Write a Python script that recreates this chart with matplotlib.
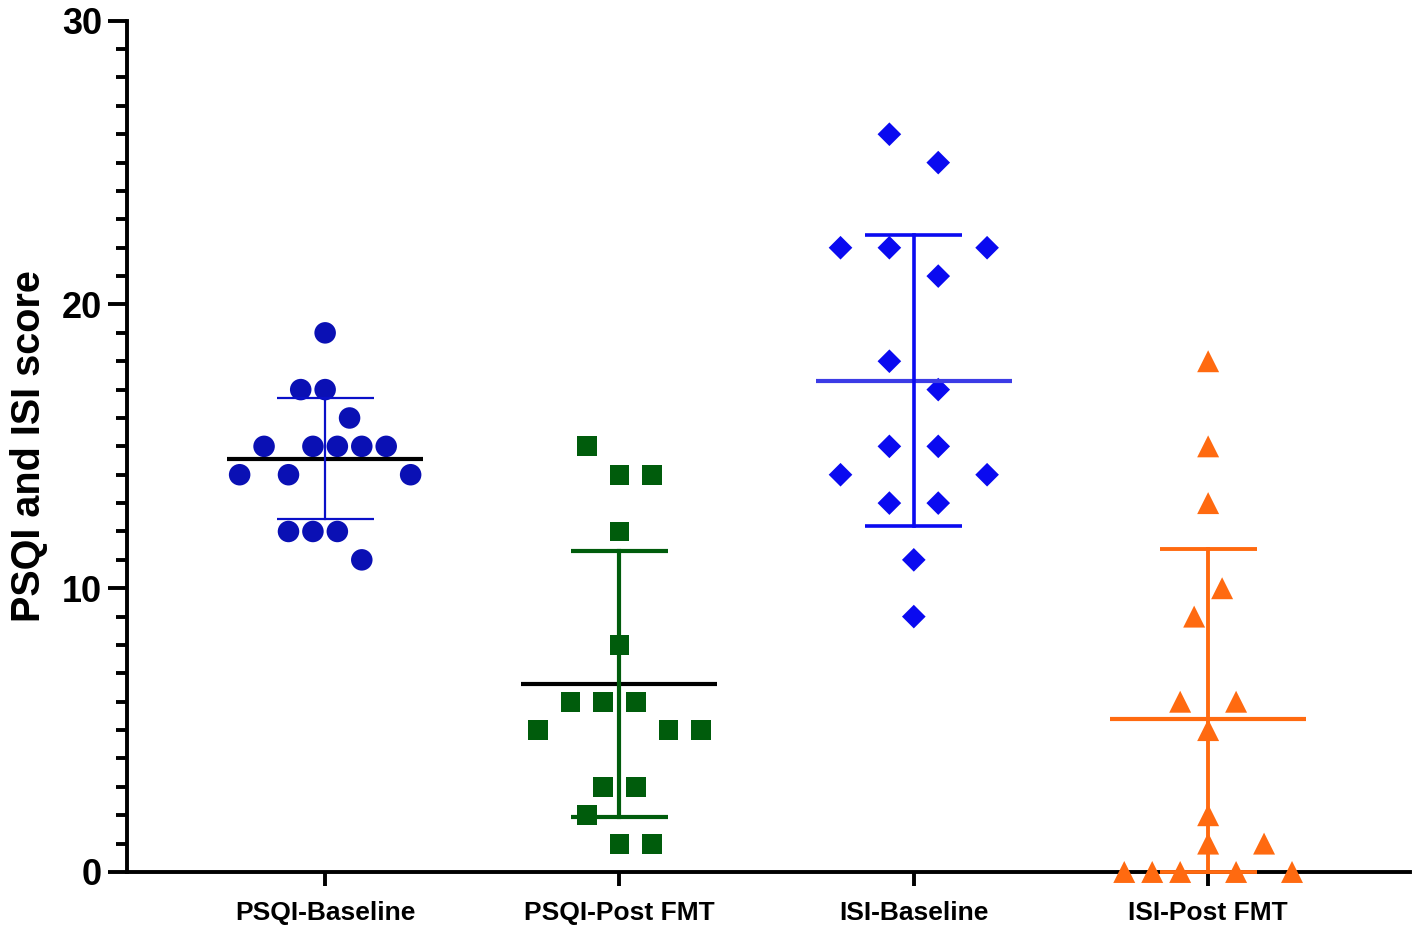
import numpy as np
import matplotlib
matplotlib.use("Agg")
import matplotlib.pyplot as plt

plt.rcParams['font.family'] = ['Liberation Sans', 'DejaVu Sans']
plt.rcParams['font.weight'] = 'bold'

# group names shown under the x axis
groups = ['PSQI-Baseline', 'PSQI-Post FMT', 'ISI-Baseline', 'ISI-Post FMT']

# scores per subject
psqi_base = [19, 17, 17, 16, 15, 15, 15, 15, 15, 14, 14, 14, 12, 12, 12, 11]
psqi_post = [15, 14, 14, 12, 8, 6, 6, 6, 5, 5, 5, 3, 3, 2, 1, 1]
isi_base = [26, 25, 22, 22, 22, 21, 18, 17, 15, 15, 14, 14, 13, 13, 11, 9]
isi_post = [18, 15, 13, 10, 9, 6, 6, 5, 2, 1, 1, 0, 0, 0, 0, 0]

# horizontal slot of each point inside its column (scatter spread)
psqi_base_slot = [0, -1, 0, 1, -2.5, -0.5, 0.5, 1.5, 2.5, -3.5, -1.5, 3.5, -1.5, -0.5, 0.5, 1.5]
psqi_post_slot = [-1, 0, 1, 0, 0, -1.5, -0.5, 0.5, -2.5, 1.5, 2.5, -0.5, 0.5, -1, 0, 1]
isi_base_slot = [-1, 1, -3, -1, 3, 1, -1, 1, -1, 1, -3, 3, -1, 1, 0, 0]
isi_post_slot = [0, 0, 0, 0.5, -0.5, -1, 1, 0, 0, 0, 2, -3, -2, -1, 1, 3]

values = [psqi_base, psqi_post, isi_base, isi_post]
slots = [psqi_base_slot, psqi_post_slot, isi_base_slot, isi_post_slot]

# styles
markers = ['o', 's', 'D', '^']
sizes = [240, 205, 145, 250]
colors = ['#0a10b4', '#005c0c', '#0a0af0', '#ff6a10']
mean_colors = ['black', 'black', '#3c3ce6', '#ff6a10']
bar_colors = ['#0a10c8', '#005c0c', '#0a0af0', '#ff6a10']
bar_widths = [1.6, 3.0, 2.6, 2.8]
slot_w = [0.083, 0.111, 0.083, 0.095]

fig = plt.figure(figsize=(14.18, 9.3), dpi=100)
ax = fig.add_axes([0.0896, 0.0624, 0.905, 0.9153])

for i, vals in enumerate(values):
    vals = np.array(vals, dtype=float)
    xs = i + np.array(slots[i]) * slot_w[i]
    ax.scatter(xs, vals, marker=markers[i], s=sizes[i], color=colors[i],
               edgecolors='none', zorder=3, clip_on=False)
    m = vals.mean()
    sd = vals.std(ddof=1)
    lo = max(m - sd, 0)
    hi = m + sd
    ax.plot([i - 0.333, i + 0.333], [m, m], color=mean_colors[i], lw=3.0,
            zorder=4, solid_capstyle='butt', clip_on=False)
    ax.plot([i, i], [lo, hi], color=bar_colors[i], lw=bar_widths[i],
            zorder=4, clip_on=False)
    for y in (lo, hi):
        ax.plot([i - 0.165, i + 0.165], [y, y], color=bar_colors[i],
                lw=bar_widths[i], zorder=4, solid_capstyle='butt', clip_on=False)

ax.set_xlim(-0.673, 3.687)
ax.set_ylim(0, 30)
ax.set_xticks(range(len(groups)))
ax.set_xticklabels(groups, fontsize=19, fontweight='bold')
ax.set_yticks([0, 10, 20, 30])
ax.set_yticks(np.arange(0, 31, 1), minor=True)
ax.tick_params(axis='y', which='major', length=14, width=2.8, labelsize=26, pad=4)
ax.tick_params(axis='y', which='minor', length=8, width=2.8)
ax.tick_params(axis='x', which='major', length=10, width=2.8, pad=11)
ax.set_ylabel('PSQI and ISI score', fontsize=28.5, fontweight='bold', labelpad=10)

for s in ['top', 'right']:
    ax.spines[s].set_visible(False)
for s in ['left', 'bottom']:
    ax.spines[s].set_linewidth(2.8)
    ax.spines[s].set_zorder(2)

fig.savefig('out.png', dpi=100)
